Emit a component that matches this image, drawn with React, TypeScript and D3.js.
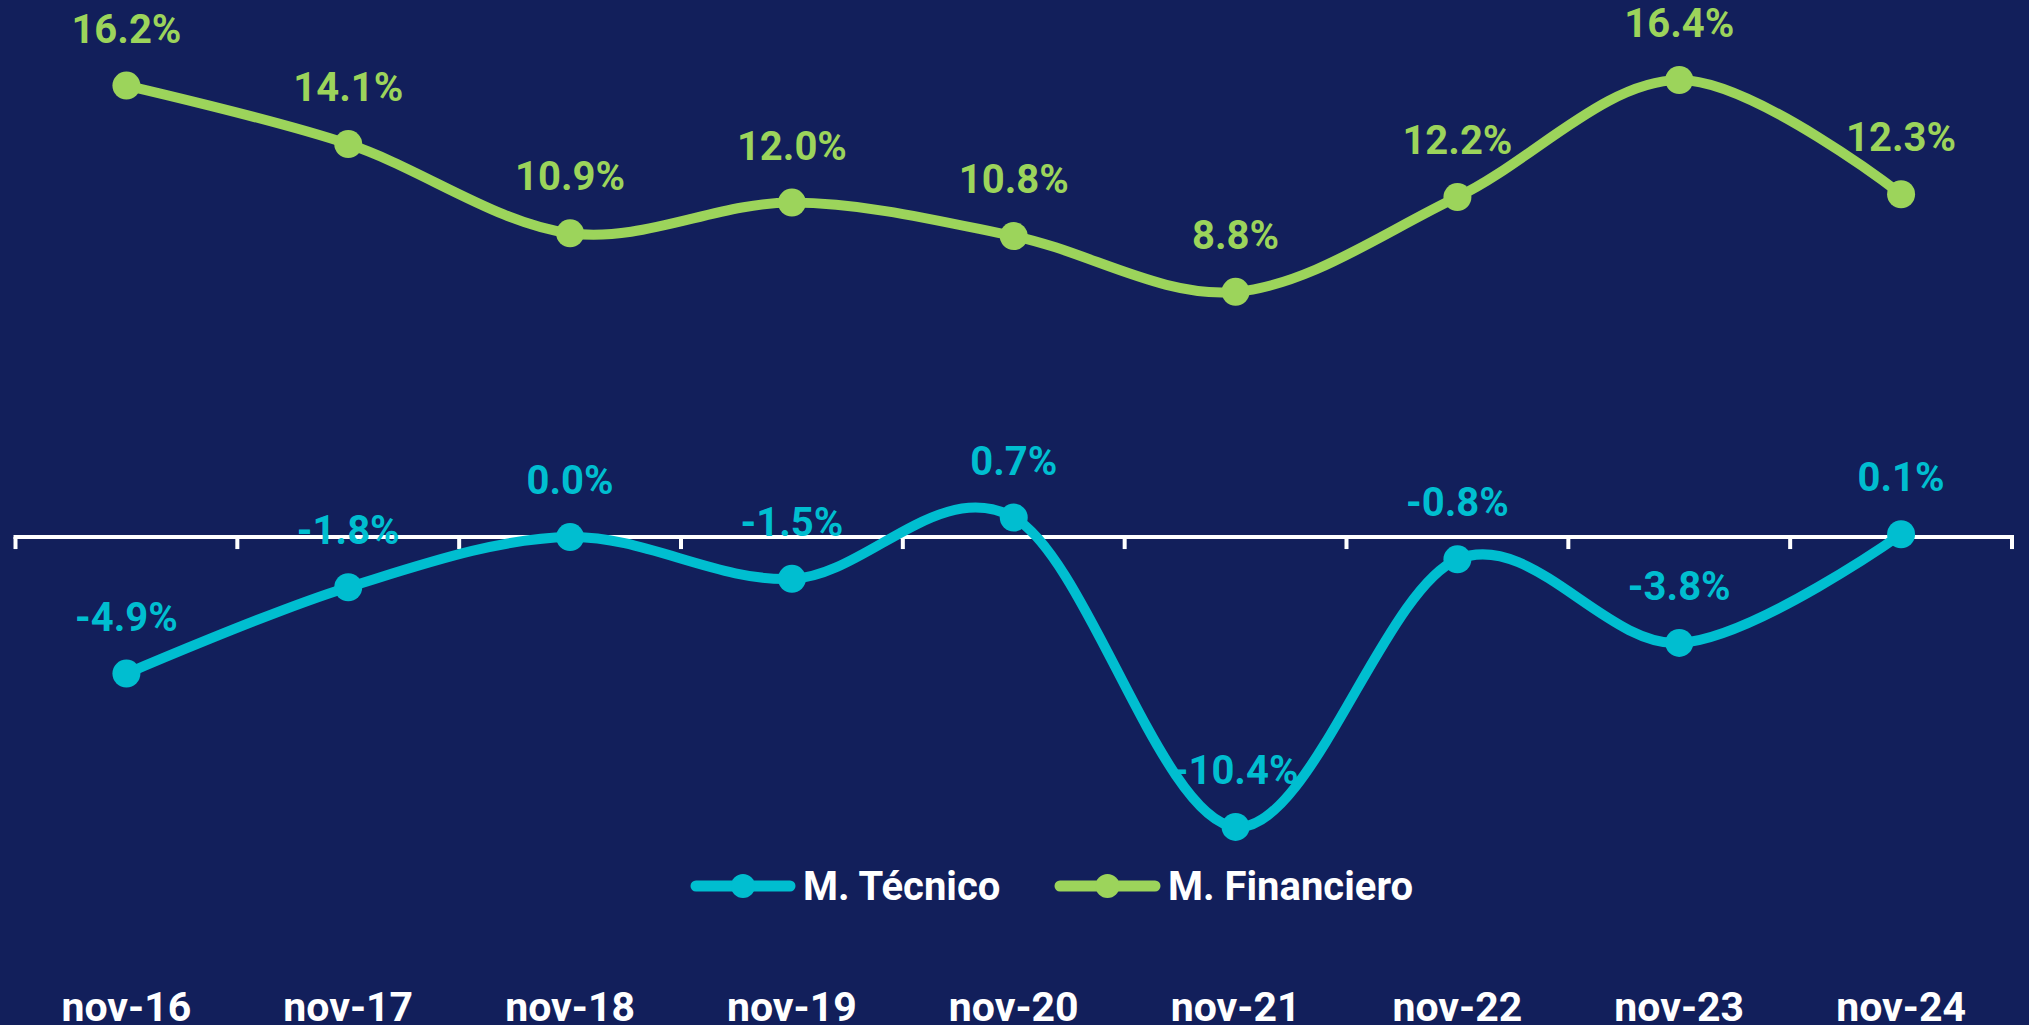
import React from "react";
import * as d3 from "d3";

const categories = ["nov-16", "nov-17", "nov-18", "nov-19", "nov-20", "nov-21", "nov-22", "nov-23", "nov-24"];
const tecnico = [-4.9, -1.8, 0.0, -1.5, 0.7, -10.4, -0.8, -3.8, 0.1];
const financiero = [16.2, 14.1, 10.9, 12.0, 10.8, 8.8, 12.2, 16.4, 12.3];
const seriesNames = ["M. Técnico", "M. Financiero"];

const W = 2029;
const H = 1025;
const BG = "#121F5B";
const CYAN = "#00BED0";
const GREEN = "#9CD45B";
const FONT = "Roboto, 'Noto Sans', sans-serif";

export default function App() {
  const x = d3.scaleBand<string>().domain(categories).range([15.5, 2012]).padding(0);
  const y = d3.scaleLinear().domain([-12, 18]).range([871.5, 35.4]);
  const cx = (c: string) => (x(c) as number) + x.bandwidth() / 2;

  const line = d3
    .line<number>()
    .x((_, i) => cx(categories[i]))
    .y((d) => y(d))
    .curve(d3.curveCardinal.tension(0));

  const series = [
    { name: seriesNames[0], values: tecnico, color: CYAN },
    { name: seriesNames[1], values: financiero, color: GREEN },
  ];

  const ticks = d3.range(categories.length + 1).map((i) => 15.5 + i * x.bandwidth());
  const y0 = y(0);

  const legend = [
    { name: seriesNames[0], color: CYAN, x1: 691, x2: 795, tx: 803 },
    { name: seriesNames[1], color: GREEN, x1: 1055, x2: 1160, tx: 1168 },
  ];

  return (
    <svg
      width={W}
      height={H}
      style={{ position: "absolute", left: 0, top: 0, display: "block" }}
      fontFamily={FONT}
    >
      <rect x={0} y={0} width={W} height={H} fill={BG} />
      {/* axis */}
      <line x1={13.5} x2={2014} y1={y0} y2={y0} stroke="#fff" strokeWidth={4} />
      {ticks.map((t, i) => (
        <line key={i} x1={t} x2={t} y1={y0} y2={y0 + 12} stroke="#fff" strokeWidth={4} />
      ))}
      {/* lines */}
      {series.map((s) => (
        <g key={s.name}>
          <path d={line(s.values) || ""} fill="none" stroke={s.color} strokeWidth={10} strokeLinecap="round" />
          {s.values.map((v, i) => (
            <circle key={i} cx={cx(categories[i])} cy={y(v)} r={14} fill={s.color} />
          ))}
        </g>
      ))}
      {/* labels */}
      {series.map((s) => (
        <g key={s.name + "lbl"}>
          {s.values.map((v, i) => (
            <text
              key={i}
              x={cx(categories[i])}
              y={y(v) - 43}
              textAnchor="middle"
              fill={s.color}
              fontSize={40}
              fontWeight={700}
            >
              {v.toFixed(1) + "%"}
            </text>
          ))}
        </g>
      ))}
      {/* legend */}
      {legend.map((l) => (
        <g key={l.name}>
          <line x1={l.x1 + 5} x2={l.x2 - 5} y1={886} y2={886} stroke={l.color} strokeWidth={11} strokeLinecap="round" />
          <circle cx={(l.x1 + l.x2) / 2} cy={886} r={12} fill={l.color} />
          <text x={l.tx} y={900} fill="#fff" fontSize={40} fontWeight={700}>
            {l.name}
          </text>
        </g>
      ))}
      {/* category labels */}
      {categories.map((c) => (
        <text key={c} x={cx(c)} y={1021} textAnchor="middle" fill="#fff" fontSize={41} fontWeight={700}>
          {c}
        </text>
      ))}
    </svg>
  );
}
